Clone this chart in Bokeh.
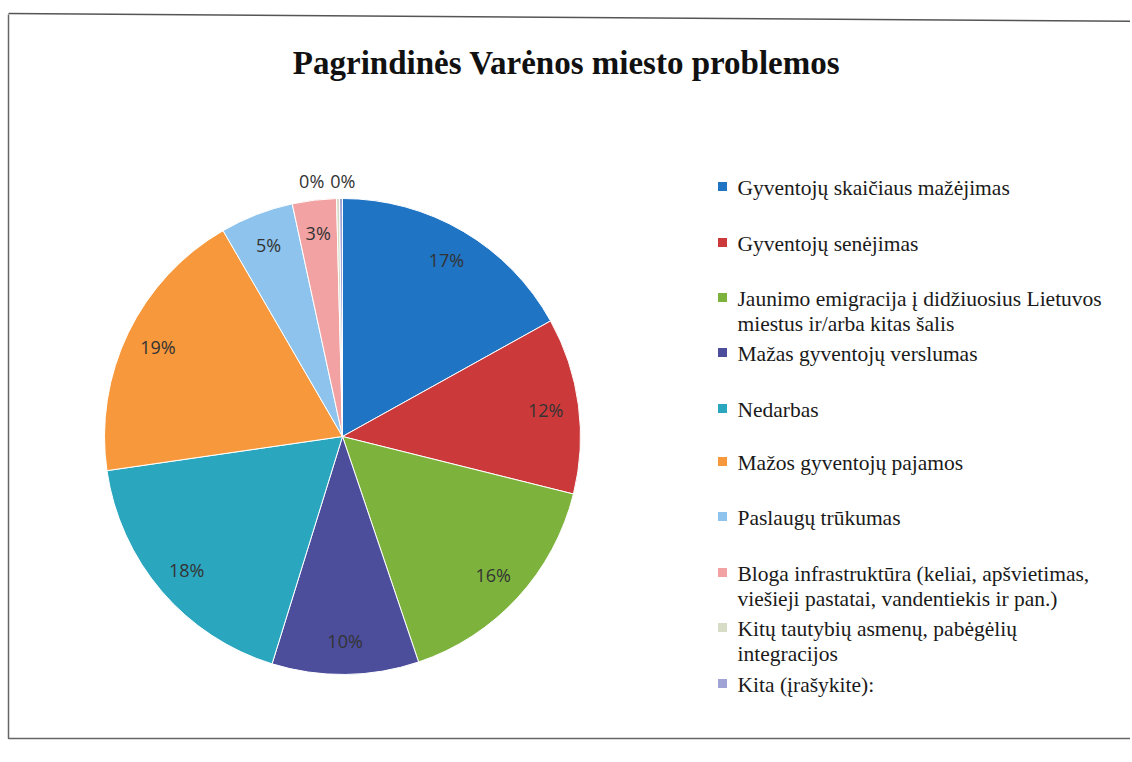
import numpy as np
from bokeh.plotting import figure
from bokeh.models import Range1d, ColumnDataSource
from bokeh.core.properties import value
from bokeh.embed import file_html
from bokeh.resources import INLINE

title = "Pagrindinės Varėnos miesto problemos"
categories = [
    "Gyventojų skaičiaus mažėjimas",
    "Gyventojų senėjimas",
    "Jaunimo emigracija į didžiuosius Lietuvos\nmiestus ir/arba kitas šalis",
    "Mažas gyventojų verslumas",
    "Nedarbas",
    "Mažos gyventojų pajamos",
    "Paslaugų trūkumas",
    "Bloga infrastruktūra (keliai, apšvietimas,\nviešieji pastatai, vandentiekis ir pan.)",
    "Kitų tautybių asmenų, pabėgėlių\nintegracijos",
    "Kita (įrašykite):",
]
shares = [17, 12, 16, 10, 18, 19, 5, 3, 0.2, 0.2]
labels = ["17%", "12%", "16%", "10%", "18%", "19%", "5%", "3%", "0%", "0%"]
colors = ["#1F74C4", "#CB393B", "#7DB33C", "#4C4E9C", "#2BA6BF",
          "#F6983B", "#8DC3EC", "#F2A2A3", "#D6DCC6", "#A0A3D6"]

W, H = 1130, 760
p = figure(width=W, height=H, output_backend="svg", toolbar_location=None,
           x_range=Range1d(0, W), y_range=Range1d(0, H), min_border=0)
p.axis.visible = False
p.grid.visible = False
p.outline_line_color = None
p.background_fill_color = "white"
p.border_fill_color = "white"

# frame (y measured from bottom: y = H - screen_y)
p.line(x=[8, 8, W + 20], y=[H - 14, H - 738, H - 738], line_color="#666666", line_width=1.5)
p.line(x=[8, W + 20], y=[H - 13, H - 21], line_color="#555555", line_width=1.5)

# title
p.text(x=[566], y=[H - 62], text=[title], text_align="center",
       text_baseline="middle", text_font=value("Liberation Serif"),
       text_font_style="bold", text_font_size="33px", text_color="#111111")

# pie
cx, cy, R = 342, H - 436, 238
vals = np.array(shares, dtype=float)
frac = vals / vals.sum()
cum = np.concatenate([[0], np.cumsum(frac)])
start = np.pi / 2 - cum[1:] * 2 * np.pi
end = np.pi / 2 - cum[:-1] * 2 * np.pi
src = ColumnDataSource(dict(start=start, end=end, color=colors))
p.wedge(x=cx, y=cy, radius=R, radius_units="screen", start_angle="start",
        end_angle="end", fill_color="color", line_color="white", line_width=1,
        source=src)

mid = (start + end) / 2
rlab = np.where(frac < 0.01, 256, 205)
lx = cx + rlab * np.cos(mid)
ly = cy + rlab * np.sin(mid)
xoff = np.zeros(len(labels))
xoff[-2] = -26
xoff[-1] = 2
lsrc = ColumnDataSource(dict(x=lx, y=ly, t=labels, xo=xoff))
p.text(x="x", y="y", text="t", x_offset="xo", source=lsrc, text_align="center",
       text_baseline="middle", text_font=value("Open Sans"),
       text_font_size="18px", text_color="#333333")

# legend (first-line centres, screen y)
ly_screen = [186, 242, 297, 352, 408, 461, 516, 572, 627, 683]
ly0 = [H - v for v in ly_screen]
lgx = 722
p.rect(x=[lgx] * len(colors), y=ly0, width=9, height=9, width_units="screen",
       height_units="screen", fill_color=colors, line_color=None)
p.text(x=[lgx + 15] * len(categories), y=[v + 11 for v in ly0], text=categories,
       text_align="left", text_baseline="top",
       text_font=value("Liberation Serif"), text_font_size="21.5px",
       text_line_height=1.07, text_color="#1a1a1a")

open("out.html", "w").write(file_html(p, INLINE))
